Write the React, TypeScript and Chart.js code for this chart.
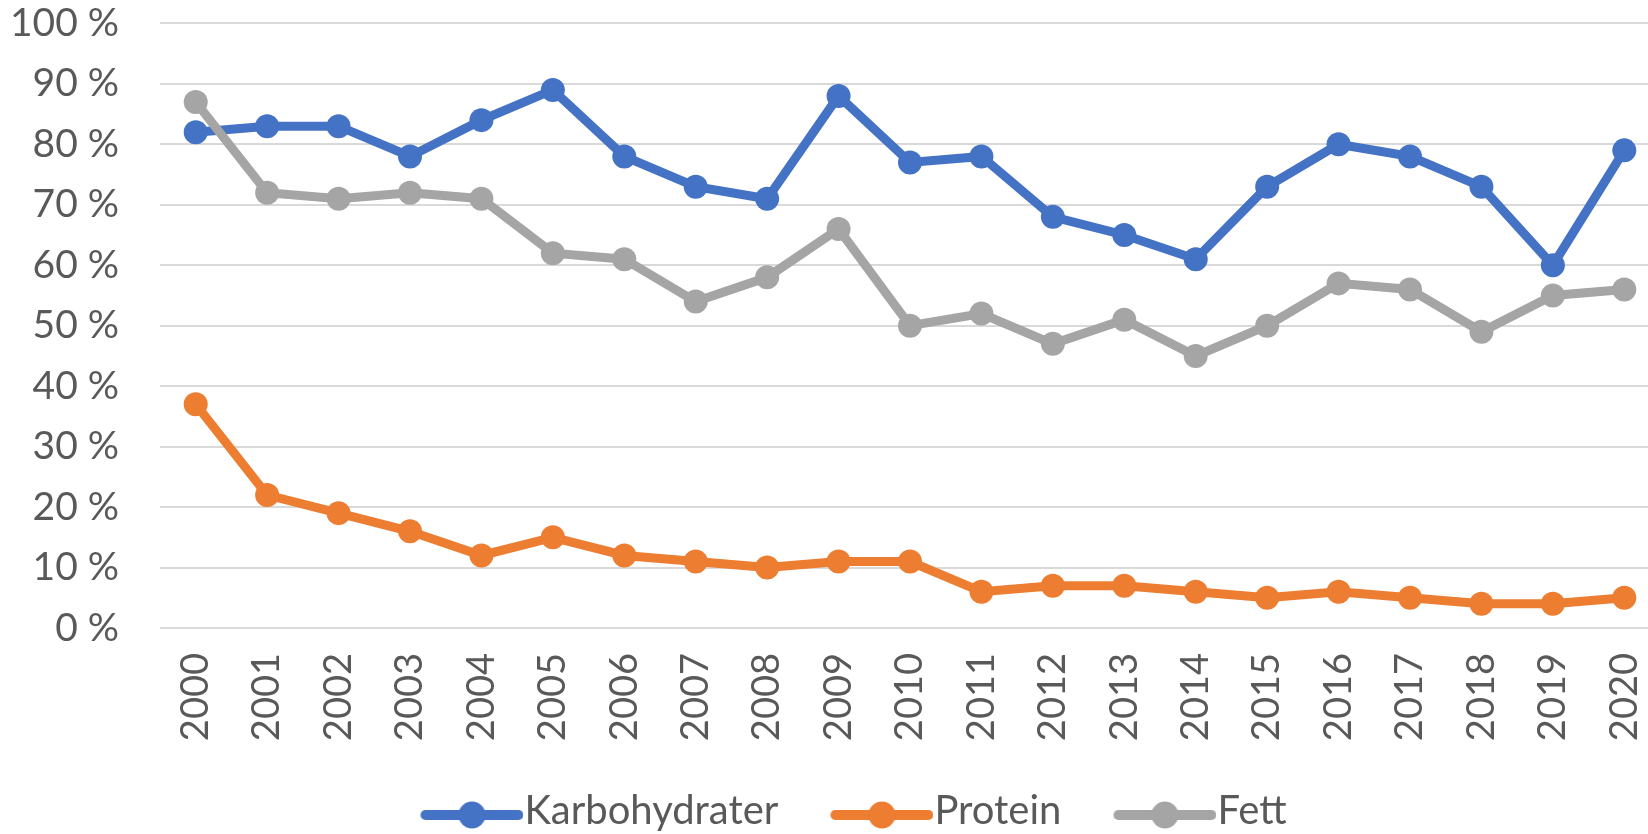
import React, { useEffect, useRef } from 'react';
import { Chart, registerables } from 'chart.js';

Chart.register(...registerables);

const years = ['2000', '2001', '2002', '2003', '2004', '2005', '2006', '2007', '2008', '2009', '2010', '2011', '2012', '2013', '2014', '2015', '2016', '2017', '2018', '2019', '2020'];
const karbohydrater = [82, 83, 83, 78, 84, 89, 78, 73, 71, 88, 77, 78, 68, 65, 61, 73, 80, 78, 73, 60, 79];
const protein = [37, 22, 19, 16, 12, 15, 12, 11, 10, 11, 11, 6, 7, 7, 6, 5, 6, 5, 4, 4, 5];
const fett = [87, 72, 71, 72, 71, 62, 61, 54, 58, 66, 50, 52, 47, 51, 45, 50, 57, 56, 49, 55, 56];
const seriesNames = ['Karbohydrater', 'Protein', 'Fett'];
const seriesColors = ['#4472C4', '#ED7D31', '#A5A5A5'];

const FONT = 'Lato';
const TEXT_COLOR = '#595959';
const CANVAS_W = 1672;
const LEGEND_SHIFT = -6;
const CANVAS_H = 841;
const LEGEND_FONT = 40;
const LEGEND_PAD = 5;
const LEGEND_HEIGHT = LEGEND_FONT + LEGEND_PAD + 10;
const LEGEND_BOX = 131;
const LEGEND_IMG_W = LEGEND_BOX + LEGEND_FONT - 2;
const PLOT_BOTTOM = 628;

function makeLegendImage(color: string) {
  const c = document.createElement('canvas');
  c.width = LEGEND_IMG_W;
  c.height = 44;
  const ctx = c.getContext('2d')!;
  const y = c.height / 2 + 4;
  const lineLen = 103;
  const x1 = c.width - lineLen;
  const x2 = c.width;
  ctx.strokeStyle = color;
  ctx.lineWidth = 10;
  ctx.lineCap = 'round';
  ctx.beginPath();
  ctx.moveTo(x1 + 5, y);
  ctx.lineTo(x2 - 5, y);
  ctx.stroke();
  ctx.fillStyle = color;
  ctx.beginPath();
  ctx.arc((x1 + x2) / 2, y, 13.5, 0, Math.PI * 2);
  ctx.fill();
  return c;
}

const legendShiftPlugin = {
  id: 'legendShift',
  afterLayout(chart: any) {
    if (chart.legend) {
      chart.legend.left += LEGEND_SHIFT;
      chart.legend.right += LEGEND_SHIFT;
    }
  },
};

export default function App() {
  const ref = useRef<HTMLCanvasElement | null>(null);

  useEffect(() => {
    document.body.style.margin = '0';
    const canvas = ref.current;
    if (!canvas) return;
    const images = seriesColors.map((c) => makeLegendImage(c));
    const values = [karbohydrater, protein, fett];
    const chart = new Chart(canvas, {
      type: 'line',
      data: {
        labels: years,
        datasets: values.map((v, i) => ({
          label: seriesNames[i],
          data: v,
          borderColor: seriesColors[i],
          backgroundColor: seriesColors[i],
          borderWidth: 9,
          pointRadius: 12,
          pointHoverRadius: 12,
          pointBorderWidth: 0,
          pointBackgroundColor: seriesColors[i],
          tension: 0,
          fill: false,
          order: 2 - i,
        })),
      },
      plugins: [legendShiftPlugin],
      options: {
        responsive: false,
        animation: false,
        devicePixelRatio: 1,
        layout: { padding: { top: 23, left: 0, right: 0, bottom: 0 } },
        plugins: {
          tooltip: { enabled: false },
          legend: {
            position: 'bottom',
            labels: {
              usePointStyle: true,
              pointStyleWidth: LEGEND_BOX,
              padding: LEGEND_PAD,
              color: TEXT_COLOR,
              font: { family: FONT, size: LEGEND_FONT },
              generateLabels: (ch: any) =>
                ch.data.datasets.map((ds: any, i: number) => ({
                  text: ds.label,
                  pointStyle: images[i],
                  fillStyle: seriesColors[i],
                  strokeStyle: seriesColors[i],
                  lineWidth: 0,
                  hidden: false,
                  datasetIndex: i,
                  fontColor: TEXT_COLOR,
                })),
            },
          },
        },
        scales: {
          x: {
            offset: true,
            grid: { display: false, drawTicks: true, tickLength: 25 },
            border: { display: false },
            ticks: {
              color: TEXT_COLOR,
              font: { family: FONT, size: 38, lineHeight: 0.9 },
              maxRotation: 90,
              minRotation: 90,
              padding: 0,
              autoSkip: false,
            },
            afterFit: (scale: any) => {
              scale.height = CANVAS_H - LEGEND_HEIGHT - PLOT_BOTTOM;
              scale.paddingLeft = 0;
              scale.paddingRight = 0;
            },
          },
          y: {
            min: 0,
            max: 100,
            grid: { color: '#D9D9D9', lineWidth: 2, drawTicks: true, tickLength: 41, tickColor: 'rgba(0,0,0,0)' },
            border: { display: false },
            ticks: {
              stepSize: 10,
              color: TEXT_COLOR,
              font: { family: FONT, size: 39 },
              padding: 0,
              callback: (v: any) => `${v} %`,
            },
            afterFit: (scale: any) => {
              scale.width = 160;
            },
          },
        },
      },
    });
    return () => chart.destroy();
  }, []);

  return (
    <div style={{ width: 1648, height: 834, overflow: 'hidden', position: 'relative', background: '#fff' }}>
      <canvas
        ref={ref}
        width={CANVAS_W}
        height={CANVAS_H}
        style={{ width: CANVAS_W, height: CANVAS_H, display: 'block' }}
      />
    </div>
  );
}
